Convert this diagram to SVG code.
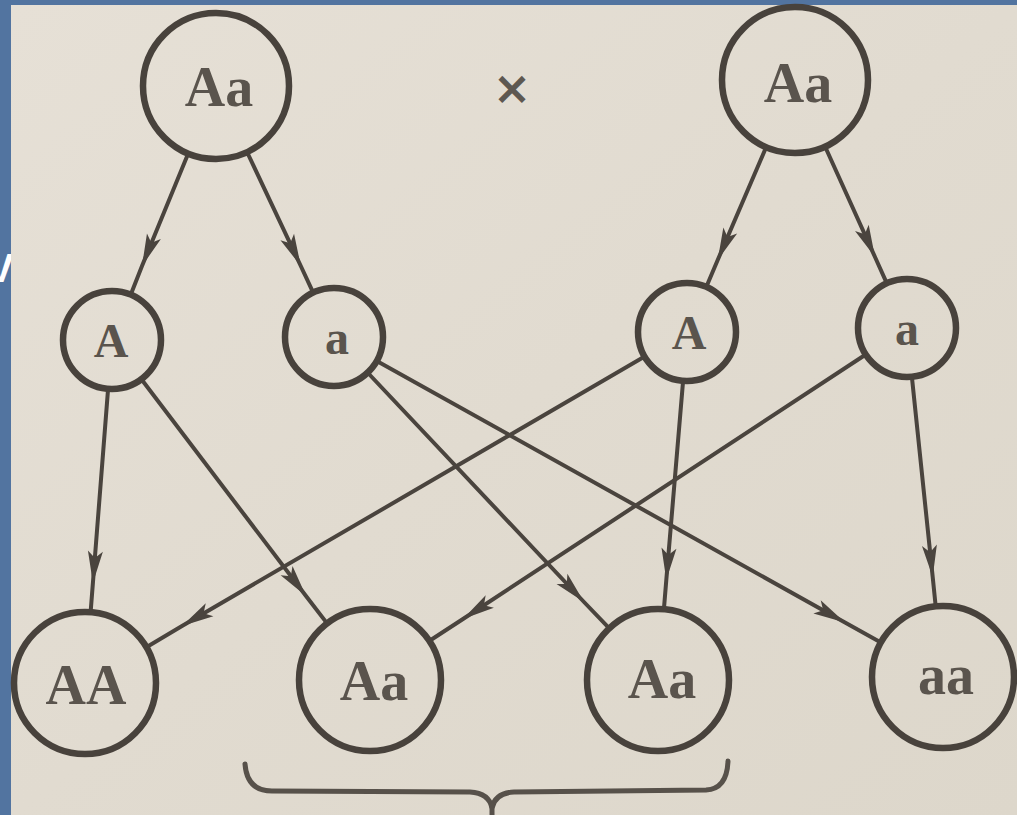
<svg xmlns="http://www.w3.org/2000/svg" width="1017" height="815" viewBox="0 0 1017 815">
  <defs>
    <linearGradient id="paper" x1="0" y1="0" x2="1" y2="1">
      <stop offset="0" stop-color="#e6e0d6"/>
      <stop offset="0.5" stop-color="#e1dbd0"/>
      <stop offset="1" stop-color="#ddd7cb"/>
    </linearGradient>
    <marker id="ah" viewBox="-34 -9 36 18" refX="0" refY="0" markerWidth="36" markerHeight="18" markerUnits="userSpaceOnUse" orient="auto">
      <path d="M-32,-7.5 L0,0 L-32,7.5 L-25,0 z" fill="#4a443e"/>
    </marker>
  </defs>
  <style>
    .node circle { fill: none; stroke: #48423c; stroke-width: 6.5; }
    .lbl { font-family: "Liberation Serif", "DejaVu Serif", serif; font-weight: bold; fill: #5a544d; text-anchor: middle; }
    .big { font-size: 56px; }
    .mid { font-size: 48px; }
    .conn path { fill: none; stroke: #4a443e; stroke-width: 4; marker-mid: url(#ah); }
    .brace { fill: none; stroke: #57514a; stroke-width: 5; stroke-linecap: round; }
  </style>

  <rect x="0" y="0" width="1017" height="815" fill="#5274a0"/>
  <text x="-13" y="282" font-family="Liberation Sans, sans-serif" font-size="40" font-weight="bold" fill="#ffffff">V</text>
  <rect x="11" y="5" width="1006" height="810" fill="url(#paper)"/>

  <g id="connectors" class="conn">
    <path d="M188,154 L142,266 L131,294"/>
    <path d="M247.5,153 L300.8,266 L312.7,291.7"/>
    <path d="M765.8,148 L717.7,260 L706.7,286"/>
    <path d="M825.5,147.5 L875,257 L886.4,282.4"/>
    <path d="M108,390 L92.9,583 L90.7,611"/>
    <path d="M142,380 L306,596 L326.5,622.6"/>
    <path d="M368,373 L584,602 L608.6,627.7"/>
    <path d="M377.7,361.4 L845,622.5 L880,642"/>
    <path d="M643.8,357 L182,626 L147.2,646.7"/>
    <path d="M683,382 L666.3,580 L664,608"/>
    <path d="M865,355 L463,619 L430,640.5"/>
    <path d="M912,378 L932.7,577 L935.6,605.4"/>
  </g>

  <g id="parent1" class="node">
    <circle cx="216" cy="86" r="73"/>
    <text class="lbl big" x="219" y="106">Aa</text>
  </g>
  <g id="cross">
    <text x="512" y="104" font-family="DejaVu Sans, sans-serif" font-size="46" font-weight="bold" fill="#5e5851" text-anchor="middle">×</text>
  </g>
  <g id="parent2" class="node">
    <circle cx="795" cy="80" r="73"/>
    <text class="lbl big" x="798" y="102">Aa</text>
  </g>

  <g id="gamete1" class="node">
    <circle cx="112" cy="340" r="49"/>
    <text class="lbl mid" x="111" y="357">A</text>
  </g>
  <g id="gamete2" class="node">
    <circle cx="334" cy="337" r="49"/>
    <text class="lbl mid" x="337" y="354">a</text>
  </g>
  <g id="gamete3" class="node">
    <circle cx="687" cy="332" r="49"/>
    <text class="lbl mid" x="689" y="349">A</text>
  </g>
  <g id="gamete4" class="node">
    <circle cx="907" cy="328" r="49"/>
    <text class="lbl mid" x="907" y="345">a</text>
  </g>

  <g id="offspring1" class="node">
    <circle cx="85" cy="683" r="71"/>
    <text class="lbl big" x="86" y="704">AA</text>
  </g>
  <g id="offspring2" class="node">
    <circle cx="370" cy="680" r="71"/>
    <text class="lbl big" x="374" y="700">Aa</text>
  </g>
  <g id="offspring3" class="node">
    <circle cx="658" cy="680" r="71"/>
    <text class="lbl big" x="662" y="698">Aa</text>
  </g>
  <g id="offspring4" class="node">
    <circle cx="943" cy="677" r="71"/>
    <text class="lbl big" x="946" y="694">aa</text>
  </g>

  <g id="brace">
    <path class="brace" d="M245,764 Q247,791 272,791 L470,792 Q489,793 492,808 Q495,793 514,792 L706,790 Q727,789 728,761"/>
    <path class="brace" d="M492,805 L492,815"/>
  </g>
</svg>
